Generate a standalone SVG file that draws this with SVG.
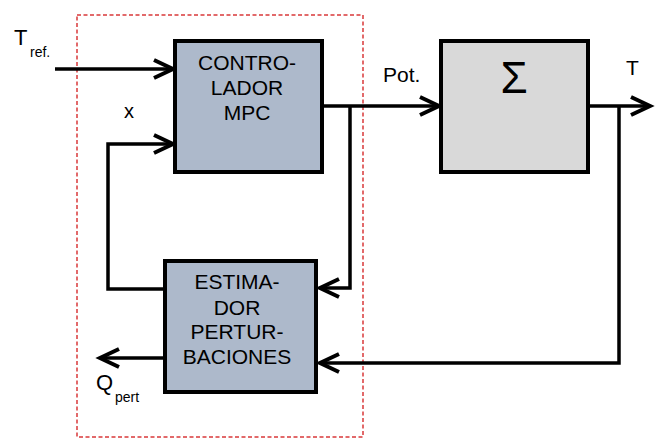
<svg xmlns="http://www.w3.org/2000/svg" width="658" height="438" viewBox="0 0 658 438">
<defs>
<style>
.box{stroke:#000;stroke-width:4}
.ln{fill:none;stroke:#000;stroke-width:3.5}
.t{font-family:"Liberation Sans",Arial,sans-serif;fill:#000}
.c{text-anchor:middle;font-size:21px}
</style>
<marker id="ah" markerUnits="userSpaceOnUse" markerWidth="26" markerHeight="24" refX="21" refY="11" orient="auto" viewBox="0 0 26 22" overflow="visible">
<path d="M2,2 L21,11 L2,20" fill="none" stroke="#000" stroke-width="4" stroke-linejoin="miter"/>
</marker>
</defs>
<rect x="77" y="15" width="286" height="422" fill="none" stroke="#d9383a" stroke-width="1.5" stroke-dasharray="4,2.5"/>
<g id="connectors">
<path class="ln" d="M55,69 H173" marker-end="url(#ah)"/>
<path class="ln" d="M165,289 H108 V144 H173" marker-end="url(#ah)"/>
<path class="ln" d="M322,106 H439" marker-end="url(#ah)"/>
<path class="ln" d="M350,106 V288 H320" marker-end="url(#ah)"/>
<path class="ln" d="M588,106 H650" marker-end="url(#ah)"/>
<path class="ln" d="M619,106 V363 H320" marker-end="url(#ah)"/>
<path class="ln" d="M165,358 H100" marker-end="url(#ah)"/>
</g>
<g id="controlador">
<rect class="box" x="175" y="41" width="147" height="131" fill="#adb9cb"/>
<text class="t c" x="247" y="70">CONTRO-</text>
<text class="t c" x="247" y="95">LADOR</text>
<text class="t c" x="247" y="120">MPC</text>
</g>
<g id="sigma">
<rect class="box" x="441" y="41" width="147" height="131" fill="#d9d9d9"/>
<text class="t" x="514" y="93" text-anchor="middle" font-size="44">Σ</text>
</g>
<g id="estimador">
<rect class="box" x="165" y="261" width="151" height="131" fill="#adb9cb"/>
<text class="t c" x="237" y="289">ESTIMA-</text>
<text class="t c" x="237" y="315">DOR</text>
<text class="t c" x="237" y="339">PERTUR-</text>
<text class="t c" x="237" y="364">BACIONES</text>
</g>
<g id="labels">
<text class="t" x="14" y="45" font-size="22">T</text>
<text class="t" x="30" y="57" font-size="14">ref.</text>
<text class="t" x="124" y="118" font-size="20">x</text>
<text class="t" x="383" y="82" font-size="21">Pot.</text>
<text class="t" x="626" y="75" font-size="21">T</text>
<text class="t" x="96" y="390" font-size="22">Q</text>
<text class="t" x="115" y="402" font-size="14">pert</text>
</g>
</svg>
